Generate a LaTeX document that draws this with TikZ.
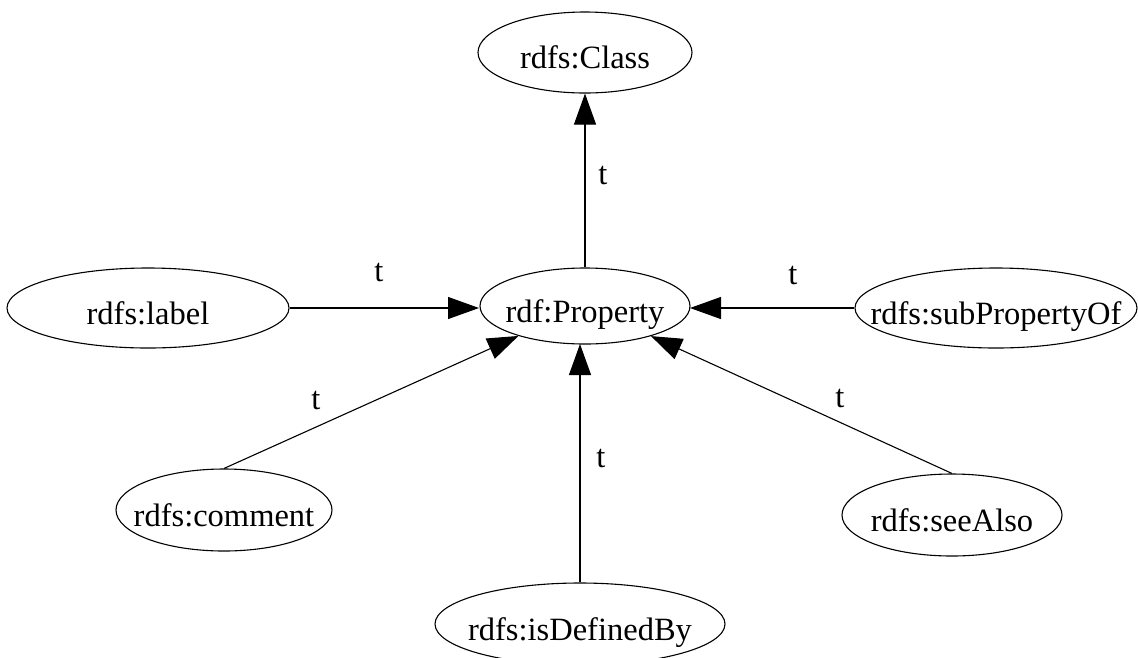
\documentclass[tikz,border=0pt]{standalone}
\usepackage{fontspec}
\setmainfont{Liberation Serif}
\usetikzlibrary{shapes.geometric,arrows.meta}
\tikzset{
  res/.style={draw, ellipse, inner sep=0pt, line width=1.1pt},
  txt/.style={font=\fontsize{32.5}{38}\selectfont, inner sep=0pt, text height=32pt, text depth=0pt},
  rel/.style={draw, line width=1.1pt, -{Triangle[length=31pt,width=22pt]}},
  lbl/.style={font=\fontsize{32.5}{38}\selectfont, inner sep=0pt}
}
\begin{document}
\begin{tikzpicture}[x=1pt,y=-1pt]
\useasboundingbox (0,0) rectangle (1138,657);
\node[res, minimum width=214pt, minimum height=81pt, label={[txt]center:{rdfs:Class}}] (class) at (585,52.5) {};
\node[res, minimum width=210pt, minimum height=76pt, label={[txt]center:{rdf:Property}}] (prop) at (585,306) {};
\node[res, minimum width=282pt, minimum height=80pt, label={[txt]center:{rdfs:label}}] (label) at (148,308) {};
\node[res, minimum width=282pt, minimum height=80pt, label={[txt]center:{rdfs:subPropertyOf}}] (sub) at (996,308) {};
\node[res, minimum width=216pt, minimum height=82pt, label={[txt]center:{rdfs:comment}}] (comment) at (224,510) {};
\node[res, minimum width=220pt, minimum height=82pt, label={[txt]center:{rdfs:seeAlso}}] (see) at (952,515) {};
\node[res, minimum width=290pt, minimum height=82pt, label={[txt]center:{rdfs:isDefinedBy}}] (def) at (580,624) {};
\coordinate (pl) at (479,308);
\coordinate (pr) at (690,308);
\coordinate (pb) at (580,344);
\draw[rel] (prop) -- (class);
\draw[rel] (label.east) -- (pl);
\draw[rel] (sub.west) -- (pr);
\draw[rel] (comment.north) -- (prop);
\draw[rel] (see.north) -- (prop);
\draw[rel] (def.north) -- (pb);
\node[lbl] (t1) at (603,176) {t};
\node[lbl] (t2) at (379,273) {t};
\node[lbl] (t3) at (793,276) {t};
\node[lbl] (t4) at (316,401) {t};
\node[lbl] (t5) at (601,459) {t};
\node[lbl] (t6) at (840,399) {t};
\end{tikzpicture}
\end{document}
